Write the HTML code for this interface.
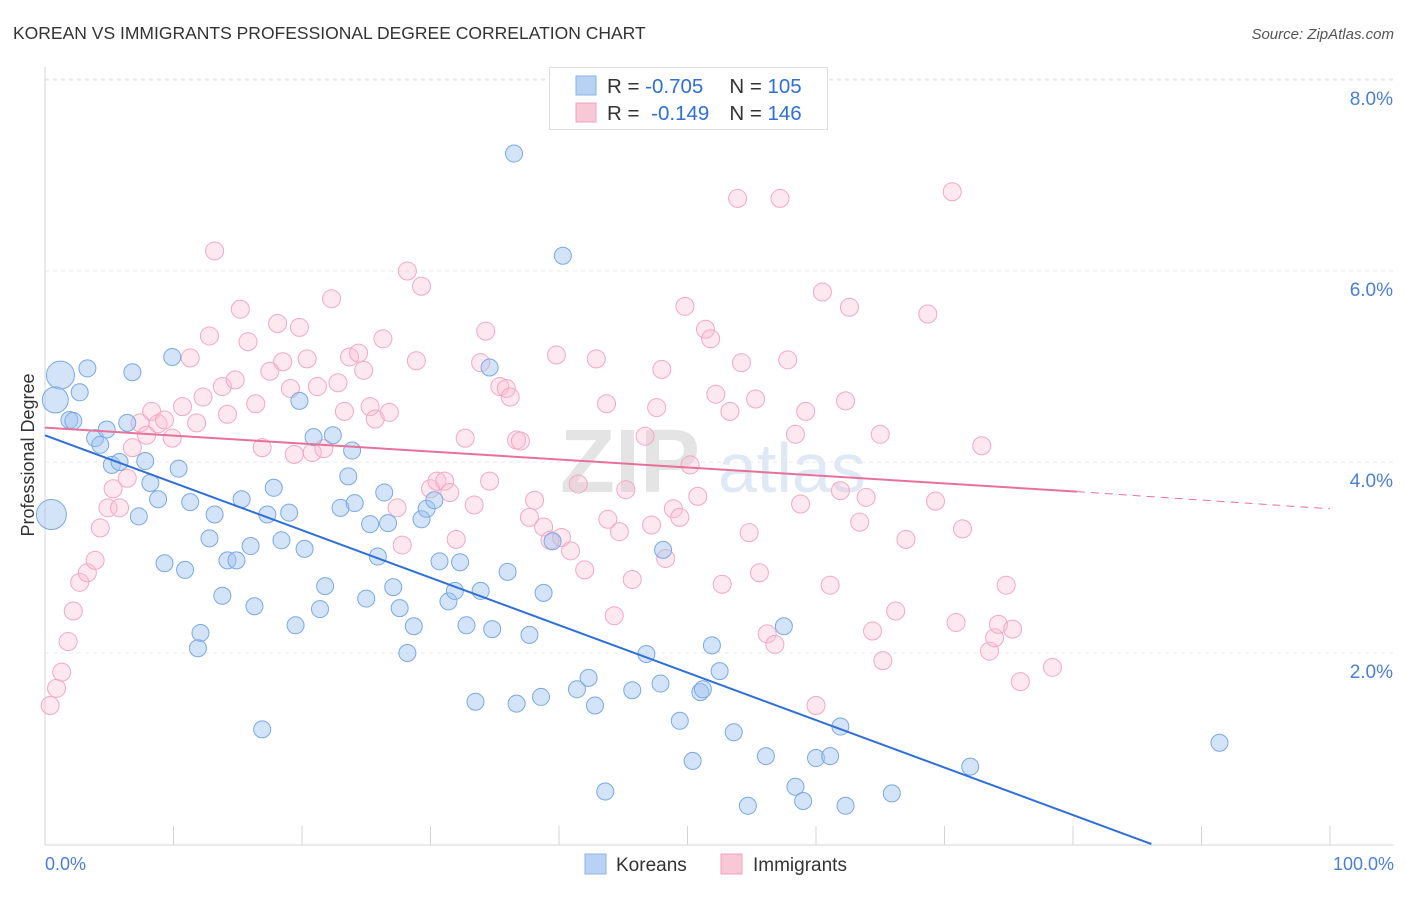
<!DOCTYPE html>
<html><head><meta charset="utf-8"><style>
body{margin:0;background:#fff;font-family:"Liberation Sans",sans-serif;}
svg text{font-family:"Liberation Sans",sans-serif;}
</style></head><body>
<svg id="chart" width="1406" height="892" xmlns="http://www.w3.org/2000/svg">
<text x="13" y="39" font-size="17.5" fill="#333">KOREAN VS IMMIGRANTS PROFESSIONAL DEGREE CORRELATION CHART</text>
<text x="1394" y="39" font-size="15" fill="#555" font-style="italic" text-anchor="end">Source: ZipAtlas.com</text>
<text x="560" y="492" font-size="90" fill="#e4e4e4" font-weight="bold" font-family="Liberation Serif">ZIP</text>
<text x="718" y="492" font-size="70" fill="#dfe8f5">atlas</text>
<g id="grid"></g><g id="axes"></g><g id="pts"></g><g id="trends"></g>
<text x="34" y="455" font-size="18" fill="#333" text-anchor="middle" transform="rotate(-90 34 455)">Professional Degree</text>
<text x="45" y="870" font-size="18" fill="#4a7fd6">0.0%</text>
<text x="1394" y="870" font-size="18" fill="#4a7fd6" text-anchor="end">100.0%</text>
<g>
<rect x="549.5" y="67.5" width="278" height="62" fill="#fff" stroke="#ddd"/>
<rect x="576" y="76" width="20" height="19" fill="#b8d2f4" stroke="#8ab4e8"/>
<rect x="576" y="103" width="20" height="19" fill="#f9c8d6" stroke="#f0a0bc"/>
<text x="607" y="93" font-size="20.5" fill="#333">R = <tspan fill="#2f6fd6">-0.705</tspan><tspan dx="26">N = </tspan><tspan fill="#2f6fd6">105</tspan></text>
<text x="607" y="120" font-size="20.5" fill="#333">R = <tspan dx="6" fill="#2f6fd6">-0.149</tspan><tspan dx="20">N = </tspan><tspan fill="#2f6fd6">146</tspan></text>
</g>
<g>
<rect x="585" y="854" width="21" height="20" fill="#b8d2f4" stroke="#8ab4e8"/>
<text x="616" y="871" font-size="19" fill="#333">Koreans</text>
<rect x="721" y="854" width="21" height="20" fill="#f9c8d6" stroke="#f0a0bc"/>
<text x="753" y="871" font-size="19" fill="#333">Immigrants</text>
</g>
</svg>
<script>
const yTicks=[2,4,6,8];
const yTickLabels=["2.0%","4.0%","6.0%","8.0%"];
const xTicks=[0,10,20,30,40,50,60,70,80,90,100];
const koreanX=[1.2,0.8,0.5,3.3,2.7,1.9,2.2,3.9,4.3,4.8,5.2,5.8,6.4,6.8,7.8,8.2,8.8,7.3,9.9,10.4,9.3,10.9,11.3,12.1,11.9,12.8,13.2,13.8,14.2,14.9,15.3,16.0,16.3,16.9,17.3,17.8,18.4,19.0,19.5,19.8,20.2,20.9,21.4,21.8,22.4,23.0,23.6,23.9,24.1,25.0,25.3,25.9,26.4,26.7,27.1,27.6,28.2,28.7,29.3,29.7,30.3,30.7,31.4,31.9,32.3,32.8,33.5,33.9,34.6,34.8,36.0,36.5,36.7,37.7,38.6,38.8,39.5,40.3,41.4,42.3,42.8,43.6,45.7,46.8,47.9,48.1,49.4,50.4,51.0,51.2,51.9,52.5,53.6,54.7,56.1,57.5,58.4,59.0,60.0,61.1,61.9,62.3,65.9,72.0,91.4];
const koreanY=[4.91,4.65,3.45,4.98,4.73,4.44,4.43,4.25,4.18,4.34,3.97,4.00,4.41,4.94,4.01,3.78,3.61,3.43,5.10,3.93,2.94,2.87,3.58,2.21,2.05,3.20,3.45,2.60,2.97,2.97,3.61,3.12,2.49,1.20,3.45,3.73,3.18,3.47,2.29,4.64,3.09,4.26,2.46,2.70,4.28,3.52,3.85,4.12,3.57,2.57,3.35,3.01,3.68,3.36,2.69,2.47,2.00,2.28,3.40,3.51,3.60,2.96,2.54,2.65,2.95,2.29,1.49,2.65,4.99,2.25,2.85,7.23,1.47,2.19,1.54,2.63,3.17,6.16,1.62,1.74,1.45,0.55,1.61,1.99,1.68,3.08,1.29,0.87,1.59,1.62,2.08,1.81,1.17,0.40,0.92,2.28,0.60,0.45,0.90,0.92,1.23,0.40,0.53,0.81,1.06];
const koreanR=[14,13,15];
const immX=[0.4,0.9,1.3,1.8,2.2,2.7,3.3,3.9,4.3,4.9,5.3,5.8,6.4,6.8,7.4,7.9,8.3,8.8,9.3,9.9,10.7,11.3,11.8,12.3,12.8,13.2,13.8,14.2,14.8,15.2,15.8,16.4,16.9,17.5,18.1,18.5,19.1,19.4,19.8,20.4,20.8,21.2,21.7,22.3,22.8,23.3,23.7,24.4,24.8,25.3,25.7,26.3,26.8,27.4,27.8,28.2,28.9,29.3,30.0,30.5,31.1,31.5,32.0,32.7,33.4,33.9,34.3,34.6,35.4,35.9,36.2,36.7,37.0,37.7,38.1,38.8,39.3,39.8,40.2,40.9,41.5,42.0,42.9,43.7,43.8,44.3,44.7,45.2,45.7,46.7,47.2,47.6,48.0,48.3,48.9,49.4,49.8,50.2,50.8,51.4,51.8,52.2,52.7,53.3,53.9,54.2,54.8,55.3,55.6,56.2,56.8,57.2,57.8,58.4,58.8,59.2,60.0,60.5,61.1,61.9,62.3,62.6,63.4,63.9,64.4,65.0,65.2,66.2,67.0,68.7,69.3,70.6,70.9,71.4,72.9,73.5,73.9,74.2,74.8,75.3,75.9,78.4,59.9];
const immY=[1.45,1.63,1.80,2.12,2.44,2.74,2.84,2.97,3.31,3.52,3.72,3.52,3.83,4.15,4.41,4.28,4.53,4.40,4.44,4.25,4.58,5.09,4.41,4.68,5.32,6.21,4.79,4.50,4.86,5.60,5.26,4.61,4.15,4.95,5.45,5.05,4.77,4.08,5.41,5.08,4.10,4.79,4.14,5.71,4.83,4.53,5.10,5.14,4.96,4.58,4.45,5.29,4.52,3.52,3.13,6.00,5.06,5.84,3.72,3.80,3.80,3.68,3.19,4.25,3.55,5.04,5.37,3.80,4.79,4.77,4.68,4.23,4.22,3.42,3.60,3.32,3.18,5.12,3.21,3.07,3.77,2.87,5.08,4.61,3.40,2.39,3.27,3.71,2.77,4.27,3.34,4.57,4.97,2.99,3.51,3.42,5.63,3.97,3.64,5.39,5.29,4.71,2.72,4.53,6.76,5.04,3.26,4.66,2.84,2.20,2.09,6.76,5.07,4.29,3.56,4.53,1.45,5.78,2.71,3.70,4.64,5.62,3.37,3.63,2.23,4.29,1.92,2.44,3.19,5.55,3.59,6.83,2.32,3.30,4.17,2.02,2.16,2.30,2.71,2.25,1.70,1.85,7.90];
const koreanTrend=[[0,4.28],[86.1,0]];
const immTrendSolid=[[0,4.36],[80.3,3.69]];
const immTrendDash=[[80.3,3.69],[100,3.51]];

const NS="http://www.w3.org/2000/svg";
const X0=45,X1=1330,Y0=844,YPX=95.5;
function sx(v){return X0+v*(X1-X0)/100;}
function sy(v){return Y0-v*YPX;}
function mk(tag,attrs,parent){const e=document.createElementNS(NS,tag);for(const k in attrs)e.setAttribute(k,attrs[k]);parent.appendChild(e);return e;}
const gridG=document.getElementById('grid'),axesG=document.getElementById('axes'),ptsG=document.getElementById('pts'),trG=document.getElementById('trends');
yTicks.forEach((t,i)=>{
  const l=mk('line',{x1:X0,x2:1394,y1:sy(t),y2:sy(t),stroke:'#e8e8e8','stroke-dasharray':'4,4'},gridG);
  
  
  const tx=mk('text',{x:1393,y:sy(t)+25,'font-size':19,fill:'#4a7fd6','text-anchor':'end'},gridG);
  tx.textContent=yTickLabels[i];
  
  
});
const topGrid=mk('line',{x1:X0,x2:1394,y1:79,y2:79,stroke:'#e8e8e8','stroke-dasharray':'4,4'},gridG);


const ya=mk('line',{x1:X0,x2:X0,y1:67,y2:845,stroke:'#d4d4d4'},axesG);


const xa=mk('line',{x1:X0,x2:1394,y1:845,y2:845,stroke:'#d4d4d4'},axesG);


xTicks.forEach(t=>{
  const l=mk('line',{x1:sx(t),x2:sx(t),y1:826,y2:845,stroke:'#d4d4d4'},axesG);
  
  
});
immX.forEach((x,i)=>{
  const c=mk('circle',{cx:sx(x),cy:sy(immY[i]),r:9,fill:'rgba(248,190,210,0.35)',stroke:'#f2a8c2','stroke-width':1},ptsG);
  
  
});
koreanX.forEach((x,i)=>{
  const c=mk('circle',{cx:sx(x),cy:sy(koreanY[i]),r:koreanR[i]||8.5,fill:'rgba(160,196,240,0.45)',stroke:'#7aa8e4','stroke-width':1},ptsG);
  
  
});
function drawLine(p,attrs,name){const l=mk('line',Object.assign({x1:sx(p[0][0]),y1:sy(p[0][1]),x2:sx(p[1][0]),y2:sy(p[1][1])},attrs),trG);}
drawLine(koreanTrend,{stroke:'#2f6fd6','stroke-width':2},'koreans-trend-line');
drawLine(immTrendSolid,{stroke:'#e8719a','stroke-width':2},'immigrants-trend-line');
drawLine(immTrendDash,{stroke:'#e8719a','stroke-width':1,'stroke-dasharray':'8,6'},'immigrants-trend-extension');
</script>
</body></html>
